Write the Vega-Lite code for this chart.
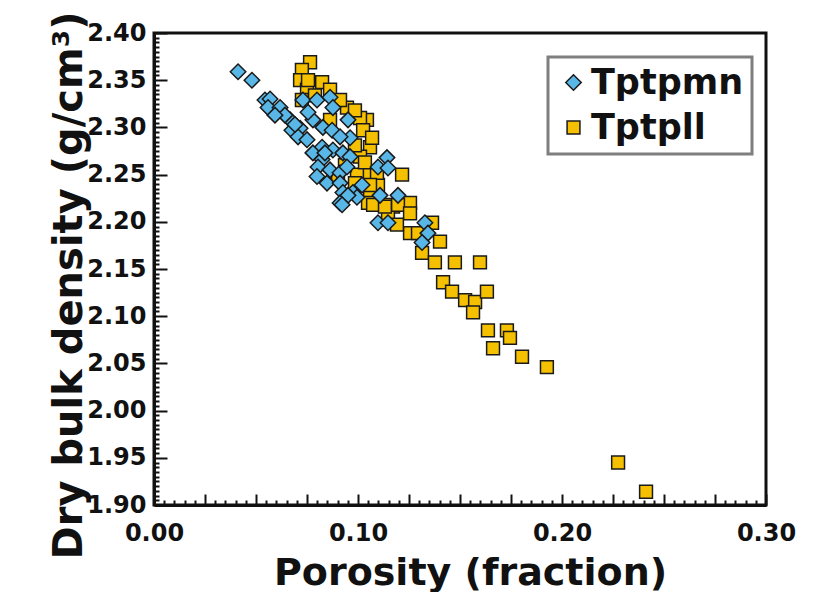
{
  "$schema": "https://vega.github.io/schema/vega-lite/v6.json",
  "width": 612,
  "height": 472,
  "autosize": {"type": "none"},
  "padding": {"left": 154, "top": 33, "right": 49, "bottom": 87},
  "background": "white",
  "config": {
    "view": {"stroke": "#111111", "strokeWidth": 3},
    "font": "DejaVu Sans"
  },
  "data": {
    "values": [
      {"porosity": 0.0765, "density": 2.369, "unit": "Tptpll"},
      {"porosity": 0.0725, "density": 2.361, "unit": "Tptpll"},
      {"porosity": 0.0716, "density": 2.350, "unit": "Tptpll"},
      {"porosity": 0.0824, "density": 2.348, "unit": "Tptpll"},
      {"porosity": 0.0750, "density": 2.340, "unit": "Tptpll"},
      {"porosity": 0.0863, "density": 2.340, "unit": "Tptpll"},
      {"porosity": 0.0725, "density": 2.329, "unit": "Tptpll"},
      {"porosity": 0.0946, "density": 2.321, "unit": "Tptpll"},
      {"porosity": 0.1044, "density": 2.308, "unit": "Tptpll"},
      {"porosity": 0.1010, "density": 2.310, "unit": "Tptpll"},
      {"porosity": 0.1059, "density": 2.279, "unit": "Tptpll"},
      {"porosity": 0.1010, "density": 2.269, "unit": "Tptpll"},
      {"porosity": 0.1216, "density": 2.250, "unit": "Tptpll"},
      {"porosity": 0.1044, "density": 2.250, "unit": "Tptpll"},
      {"porosity": 0.1098, "density": 2.239, "unit": "Tptpll"},
      {"porosity": 0.1059, "density": 2.226, "unit": "Tptpll"},
      {"porosity": 0.1255, "density": 2.220, "unit": "Tptpll"},
      {"porosity": 0.1172, "density": 2.216, "unit": "Tptpll"},
      {"porosity": 0.1147, "density": 2.209, "unit": "Tptpll"},
      {"porosity": 0.1255, "density": 2.188, "unit": "Tptpll"},
      {"porosity": 0.0995, "density": 2.250, "unit": "Tptpll"},
      {"porosity": 0.1093, "density": 2.252, "unit": "Tptpll"},
      {"porosity": 0.1059, "density": 2.239, "unit": "Tptpll"},
      {"porosity": 0.1142, "density": 2.218, "unit": "Tptpll"},
      {"porosity": 0.1196, "density": 2.218, "unit": "Tptpll"},
      {"porosity": 0.1255, "density": 2.209, "unit": "Tptpll"},
      {"porosity": 0.1191, "density": 2.197, "unit": "Tptpll"},
      {"porosity": 0.1294, "density": 2.188, "unit": "Tptpll"},
      {"porosity": 0.1363, "density": 2.199, "unit": "Tptpll"},
      {"porosity": 0.1402, "density": 2.179, "unit": "Tptpll"},
      {"porosity": 0.1314, "density": 2.167, "unit": "Tptpll"},
      {"porosity": 0.1377, "density": 2.157, "unit": "Tptpll"},
      {"porosity": 0.1475, "density": 2.157, "unit": "Tptpll"},
      {"porosity": 0.1598, "density": 2.157, "unit": "Tptpll"},
      {"porosity": 0.1417, "density": 2.136, "unit": "Tptpll"},
      {"porosity": 0.1461, "density": 2.126, "unit": "Tptpll"},
      {"porosity": 0.1525, "density": 2.117, "unit": "Tptpll"},
      {"porosity": 0.1574, "density": 2.115, "unit": "Tptpll"},
      {"porosity": 0.1632, "density": 2.126, "unit": "Tptpll"},
      {"porosity": 0.1564, "density": 2.104, "unit": "Tptpll"},
      {"porosity": 0.1637, "density": 2.085, "unit": "Tptpll"},
      {"porosity": 0.1730, "density": 2.085, "unit": "Tptpll"},
      {"porosity": 0.1745, "density": 2.077, "unit": "Tptpll"},
      {"porosity": 0.1662, "density": 2.066, "unit": "Tptpll"},
      {"porosity": 0.1804, "density": 2.057, "unit": "Tptpll"},
      {"porosity": 0.1926, "density": 2.046, "unit": "Tptpll"},
      {"porosity": 0.2275, "density": 1.945, "unit": "Tptpll"},
      {"porosity": 0.2412, "density": 1.914, "unit": "Tptpll"},
      {"porosity": 0.1049, "density": 2.220, "unit": "Tptpll"},
      {"porosity": 0.0902, "density": 2.248, "unit": "Tptpll"},
      {"porosity": 0.1074, "density": 2.218, "unit": "Tptpll"},
      {"porosity": 0.1132, "density": 2.216, "unit": "Tptpll"},
      {"porosity": 0.0789, "density": 2.334, "unit": "Tptpll"},
      {"porosity": 0.0912, "density": 2.329, "unit": "Tptpll"},
      {"porosity": 0.0985, "density": 2.318, "unit": "Tptpll"},
      {"porosity": 0.1025, "density": 2.297, "unit": "Tptpll"},
      {"porosity": 0.0985, "density": 2.281, "unit": "Tptpll"},
      {"porosity": 0.0936, "density": 2.260, "unit": "Tptpll"},
      {"porosity": 0.0985, "density": 2.241, "unit": "Tptpll"},
      {"porosity": 0.0863, "density": 2.308, "unit": "Tptpll"},
      {"porosity": 0.0755, "density": 2.350, "unit": "Tptpll"},
      {"porosity": 0.1069, "density": 2.289, "unit": "Tptpll"},
      {"porosity": 0.1034, "density": 2.263, "unit": "Tptpll"},
      {"porosity": 0.0412, "density": 2.359, "unit": "Tptpmn"},
      {"porosity": 0.0480, "density": 2.350, "unit": "Tptpmn"},
      {"porosity": 0.0544, "density": 2.329, "unit": "Tptpmn"},
      {"porosity": 0.0569, "density": 2.330, "unit": "Tptpmn"},
      {"porosity": 0.0559, "density": 2.321, "unit": "Tptpmn"},
      {"porosity": 0.0618, "density": 2.321, "unit": "Tptpmn"},
      {"porosity": 0.0667, "density": 2.308, "unit": "Tptpmn"},
      {"porosity": 0.0676, "density": 2.297, "unit": "Tptpmn"},
      {"porosity": 0.0716, "density": 2.299, "unit": "Tptpmn"},
      {"porosity": 0.0706, "density": 2.290, "unit": "Tptpmn"},
      {"porosity": 0.0730, "density": 2.329, "unit": "Tptpmn"},
      {"porosity": 0.0799, "density": 2.329, "unit": "Tptpmn"},
      {"porosity": 0.0863, "density": 2.332, "unit": "Tptpmn"},
      {"porosity": 0.0877, "density": 2.321, "unit": "Tptpmn"},
      {"porosity": 0.0779, "density": 2.308, "unit": "Tptpmn"},
      {"porosity": 0.0828, "density": 2.300, "unit": "Tptpmn"},
      {"porosity": 0.0873, "density": 2.297, "unit": "Tptpmn"},
      {"porosity": 0.0951, "density": 2.308, "unit": "Tptpmn"},
      {"porosity": 0.0961, "density": 2.289, "unit": "Tptpmn"},
      {"porosity": 0.0912, "density": 2.290, "unit": "Tptpmn"},
      {"porosity": 0.0824, "density": 2.279, "unit": "Tptpmn"},
      {"porosity": 0.0877, "density": 2.276, "unit": "Tptpmn"},
      {"porosity": 0.0926, "density": 2.273, "unit": "Tptpmn"},
      {"porosity": 0.0961, "density": 2.269, "unit": "Tptpmn"},
      {"porosity": 0.0750, "density": 2.287, "unit": "Tptpmn"},
      {"porosity": 0.0779, "density": 2.273, "unit": "Tptpmn"},
      {"porosity": 0.0824, "density": 2.266, "unit": "Tptpmn"},
      {"porosity": 0.0804, "density": 2.258, "unit": "Tptpmn"},
      {"porosity": 0.0863, "density": 2.255, "unit": "Tptpmn"},
      {"porosity": 0.0912, "density": 2.252, "unit": "Tptpmn"},
      {"porosity": 0.0946, "density": 2.258, "unit": "Tptpmn"},
      {"porosity": 0.0799, "density": 2.248, "unit": "Tptpmn"},
      {"porosity": 0.0848, "density": 2.241, "unit": "Tptpmn"},
      {"porosity": 0.0912, "density": 2.241, "unit": "Tptpmn"},
      {"porosity": 0.0926, "density": 2.231, "unit": "Tptpmn"},
      {"porosity": 0.0975, "density": 2.231, "unit": "Tptpmn"},
      {"porosity": 0.1020, "density": 2.239, "unit": "Tptpmn"},
      {"porosity": 0.0912, "density": 2.220, "unit": "Tptpmn"},
      {"porosity": 0.0995, "density": 2.226, "unit": "Tptpmn"},
      {"porosity": 0.1098, "density": 2.258, "unit": "Tptpmn"},
      {"porosity": 0.1142, "density": 2.268, "unit": "Tptpmn"},
      {"porosity": 0.1147, "density": 2.257, "unit": "Tptpmn"},
      {"porosity": 0.1108, "density": 2.228, "unit": "Tptpmn"},
      {"porosity": 0.1196, "density": 2.228, "unit": "Tptpmn"},
      {"porosity": 0.1098, "density": 2.199, "unit": "Tptpmn"},
      {"porosity": 0.1147, "density": 2.199, "unit": "Tptpmn"},
      {"porosity": 0.1328, "density": 2.199, "unit": "Tptpmn"},
      {"porosity": 0.1343, "density": 2.188, "unit": "Tptpmn"},
      {"porosity": 0.1314, "density": 2.178, "unit": "Tptpmn"},
      {"porosity": 0.0951, "density": 2.228, "unit": "Tptpmn"},
      {"porosity": 0.0922, "density": 2.218, "unit": "Tptpmn"},
      {"porosity": 0.0838, "density": 2.273, "unit": "Tptpmn"},
      {"porosity": 0.0642, "density": 2.313, "unit": "Tptpmn"},
      {"porosity": 0.0691, "density": 2.303, "unit": "Tptpmn"},
      {"porosity": 0.0755, "density": 2.316, "unit": "Tptpmn"},
      {"porosity": 0.0593, "density": 2.313, "unit": "Tptpmn"}
    ]
  },
  "mark": {"type": "point", "filled": true, "opacity": 1, "stroke": "#1a1a1a", "strokeWidth": 1.5},
  "encoding": {
    "x": {
      "field": "porosity",
      "type": "quantitative",
      "scale": {"domain": [0, 0.3], "nice": false, "zero": false},
      "axis": {
        "title": "Porosity (fraction)",
        "grid": false,
        "tickCount": 60,
        "tickSize": {"condition": {"test": "abs(datum.value*40 - round(datum.value*40)) < 0.001", "value": -11}, "value": -5},
        "tickWidth": 2,
        "tickColor": "#111111",
        "domainWidth": 3,
        "domainColor": "#111111",
        "labelExpr": "abs(datum.value*10 - round(datum.value*10)) < 0.001 ? format(datum.value, '.2f') : ''",
        "labelFont": "DejaVu Sans",
        "labelFontWeight": "bold",
        "labelFontSize": 24,
        "labelColor": "#111111",
        "labelPadding": 27,
        "labelOverlap": false,
        "labelFlush": false,
        "titleFont": "DejaVu Sans",
        "titleFontWeight": "bold",
        "titleFontSize": 38,
        "titleColor": "#111111",
        "titleX": 316,
        "titleY": 79,
        "titleBaseline": "alphabetic"
      }
    },
    "y": {
      "field": "density",
      "type": "quantitative",
      "scale": {"domain": [1.9, 2.4], "nice": false, "zero": false},
      "axis": {
        "title": "Dry bulk density (g/cm³)",
        "grid": false,
        "tickCount": 100,
        "tickSize": {"condition": {"test": "abs(datum.value*20 - round(datum.value*20)) < 0.001", "value": -13}, "value": -5},
        "tickWidth": 2,
        "tickColor": "#111111",
        "domainWidth": 3,
        "domainColor": "#111111",
        "labelExpr": "abs(datum.value*20 - round(datum.value*20)) < 0.001 ? format(datum.value, '.2f') : ''",
        "labelFont": "DejaVu Sans",
        "labelFontWeight": "bold",
        "labelFontSize": 24,
        "labelColor": "#111111",
        "labelPadding": 21,
        "labelOverlap": false,
        "labelFlush": false,
        "titleFont": "DejaVu Sans",
        "titleFontWeight": "bold",
        "titleFontSize": 40,
        "titleColor": "#111111",
        "titleX": -73,
        "titleY": 252,
        "titleBaseline": "alphabetic"
      }
    },
    "color": {
      "field": "unit",
      "type": "nominal",
      "scale": {"domain": ["Tptpmn", "Tptpll"], "range": ["#58b7e6", "#f5c000"]},
      "legend": {
        "title": null,
        "orient": "none",
        "legendX": 394,
        "legendY": 24,
        "labelFont": "DejaVu Sans",
        "labelFontWeight": "bold",
        "labelFontSize": 35,
        "labelColor": "#111111",
        "labelLimit": 0,
        "labelOffset": 0,
        "symbolSize": 180,
        "symbolStrokeWidth": 1.5,
        "symbolStrokeColor": "#1a1a1a",
        "symbolOpacity": 1,
        "strokeColor": "#7f7f7f",
        "fillColor": "white",
        "padding": 8,
        "rowPadding": 9,
        "encode": {"legend": {"update": {"strokeWidth": {"value": 3}}}}
      }
    },
    "shape": {
      "field": "unit",
      "type": "nominal",
      "scale": {"domain": ["Tptpmn", "Tptpll"], "range": ["diamond", "square"]}
    },
    "size": {
      "field": "unit",
      "type": "nominal",
      "scale": {"domain": ["Tptpmn", "Tptpll"], "range": [240, 165]},
      "legend": null
    }
  }
}
